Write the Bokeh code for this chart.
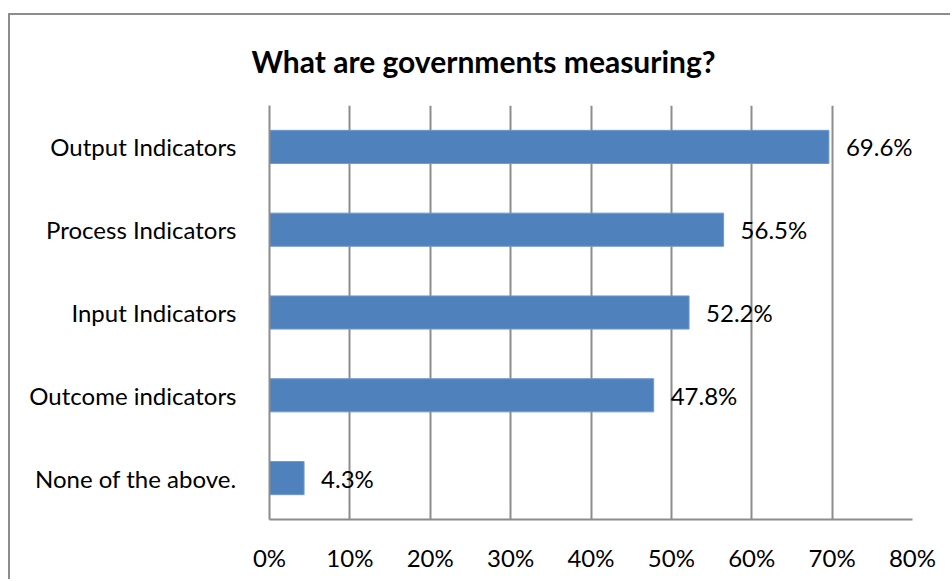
from bokeh.plotting import figure
from bokeh.models import Range1d, FactorRange, FixedTicker, PrintfTickFormatter, ColumnDataSource
from bokeh.core.properties import value
from bokeh.embed import file_html
from bokeh.resources import INLINE

categories = ["Output Indicators", "Process Indicators", "Input Indicators",
              "Outcome indicators", "None of the above."]
values = [69.6, 56.5, 52.2, 47.8, 4.3]
tick_values = [0, 10, 20, 30, 40, 50, 60, 70, 80]
title_text = "What are governments measuring?"

FONT = "Lato"
GRID = "#8c8c8c"

src = ColumnDataSource(dict(cat=categories, val=values,
                            lab=[f"{v:.1f}%" for v in values]))

p = figure(width=942, height=566, output_backend="svg", toolbar_location=None,
           y_range=FactorRange(factors=categories[::-1]),
           x_range=Range1d(0, 80),
           min_border_left=259, min_border_right=40,
           min_border_top=90, min_border_bottom=62)
p.styles = {"border-top": "2px solid #8c8c8c", "border-left": "2px solid #8c8c8c",
            "margin-top": "13px", "margin-left": "8px"}

p.title.text = title_text
p.title.text_font = FONT
p.title.text_font_size = "30px"
p.title.text_font_style = "bold"
p.title.text_color = "#000000"
p.title.align = "left"
p.title.offset = -18
p.title.standoff = 50
p.title.vertical_align = "top"

p.hbar(y="cat", right="val", left=0, height=0.4, source=src,
       fill_color="#4F81BD", line_color="#6f98cb", line_width=1)
p.text(x="val", y="cat", text="lab", source=src, x_offset=17,
       text_baseline="middle", text_align="left",
       text_font=value(FONT), text_font_size="24px", text_color="#000000")

p.xaxis.ticker = FixedTicker(ticks=tick_values)
p.xaxis.formatter = PrintfTickFormatter(format="%d%%")
for ax in (p.xaxis, p.yaxis):
    ax.axis_line_color = GRID
    ax.axis_line_width = 2
    ax.major_tick_line_color = None
    ax.minor_tick_line_color = None
    ax.major_label_text_font = FONT
    ax.major_label_text_font_size = "24px"
    ax.major_label_text_color = "#000000"
p.xaxis.major_label_standoff = 17
p.yaxis.major_label_standoff = 27

p.xgrid.grid_line_color = GRID
p.xgrid.grid_line_width = 2
p.ygrid.grid_line_color = None
p.outline_line_color = None
p.background_fill_color = "white"
p.border_fill_color = "white"

open("out.html", "w").write(file_html(p, INLINE))
